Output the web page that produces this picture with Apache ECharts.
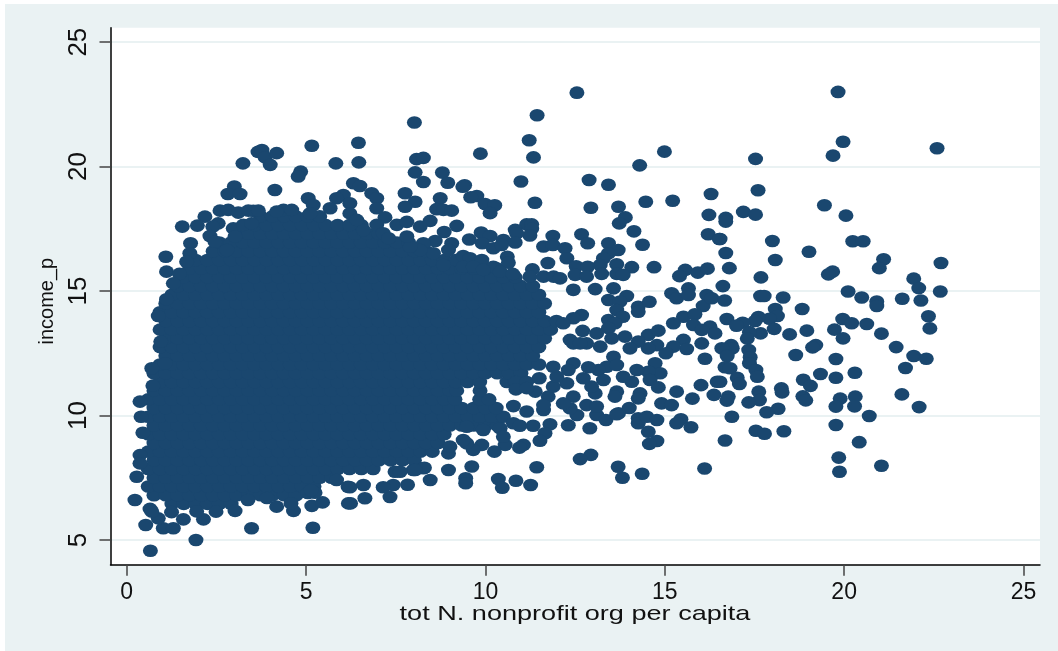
<!DOCTYPE html>
<html><head><meta charset="utf-8">
<style>html,body{margin:0;padding:0;background:#fff}#bg{position:absolute;left:5px;top:4px;width:1053px;height:647px;background:#EAF2F3}#c{position:absolute;left:0;top:0;width:1058px;height:651px}</style>
<script src="https://cdn.jsdelivr.net/npm/echarts@6/dist/echarts.min.js"></script>
</head><body><div id="bg"></div><div id="c"></div>
<script>
const tickValuesX=[0,5,10,15,20,25];
const tickValuesY=[5,10,15,20,25];
const xTitle="tot N. nonprofit org per capita";
const yTitle="income_p";
const farRightPoints=[[19.83,23],[19.97,21],[19.69,20.44],[22.59,20.74],[17.53,20.31],[17.6,19.05],[19.45,18.45],[20.05,18.03],[17.19,18.18],[17.53,18.07],[16.7,17.94],[16.7,17.79],[16.54,17.09],[18,17.01],[16.7,16.53],[19.02,16.58],[18.08,16.25],[20.24,17],[20.53,17],[21.1,16.28],[20.98,15.92],[22.7,16.13],[16.8,15.92],[17.68,15.55],[19.68,15.78],[19.56,15.67],[21.94,15.5],[22.08,15.12],[22.68,14.98],[16.62,15.2],[17.67,14.8],[17.77,14.8],[18.3,14.74],[20.11,14.98],[20.49,14.74],[20.91,14.58],[20.91,14.4],[21.62,14.69],[22.14,14.62],[16.67,14.62],[18.83,14.28],[18.08,14.28],[22.35,13.99],[22.39,13.5],[18.14,14],[17.92,13.89],[17.61,13.96],[17.52,13.8],[16.73,13.88],[17.17,13.73],[17,13.61],[19.96,13.88],[20.21,13.71],[20.63,13.68],[19.73,13.45],[21.04,13.29],[19.97,13.1],[18.05,13.48],[17.67,13.3],[17.36,13.35],[17.3,13.09],[18.48,13.26],[18.96,13.41],[21.45,12.75],[19.21,12.83],[19.12,12.74],[21.94,12.39],[22.29,12.28],[21.71,11.91],[19.77,12.27],[18.65,12.43],[16.85,12.83],[16.88,12.7],[16.59,12.7],[16.74,12.39],[17.34,12.63],[17.38,12.34],[17.36,12.1],[17.54,11.83],[17.58,11.56],[16.68,11.94],[16.82,11.9],[17.02,11.52],[17.08,11.27],[16.54,11.36],[20.3,11.72],[19.34,11.67],[19.77,11.52],[18.86,11.44],[19.06,11.19],[18.25,11.09],[18.27,10.93],[17.62,10.96],[17.64,10.62],[17.34,10.53],[16.77,10.76],[16.73,10.6],[18.85,10.77],[18.93,10.61],[19.89,10.68],[19.77,10.36],[20.31,10.76],[20.29,10.37],[21.61,10.85],[22.09,10.34],[20.7,9.98],[18.16,10.27],[17.84,10.13],[16.87,9.95],[19.77,9.62],[17.54,9.39],[17.78,9.27],[18.32,9.37],[16.68,9],[20.42,8.93],[19.85,8.31],[19.87,7.74],[21.04,7.98]];
const upperMiddlePoints=[[12.55,22.97],[8.02,21.77],[11.44,22.06],[11.22,21.06],[11.34,20.37],[9.86,20.52],[14.99,20.6],[14.3,20.05],[8.08,20.3],[8.27,20.35],[8.04,19.77],[8.8,19.76],[8.27,19.38],[8.95,19.35],[9.42,19.25],[9.37,19.19],[10.99,19.4],[12.89,19.46],[13.43,19.27],[7.76,18.93],[8.04,18.59],[7.76,18.39],[8.74,18.73],[9.76,18.82],[9.59,18.77],[9.99,18.5],[10.26,18.45],[10.13,18.13],[11.38,18.55],[12.94,18.35],[13.71,18.39],[14.47,18.59],[15.22,18.63],[16.29,18.9],[8.64,18.29],[8.83,18.26],[9.06,18.23],[16.23,18.06],[7.81,17.78],[8.46,17.82],[8.18,17.59],[9.2,17.62],[13.9,17.96],[13.73,17.72],[11.15,17.68],[11.29,17.68],[11.29,17.5],[11.24,17.23],[10.83,17.46],[10.87,17.32],[8.85,17.37],[9.88,17.35],[10.13,17.21],[9.55,17.07],[8.6,17.01],[8.27,16.92],[9.06,16.92],[8.97,16.65],[9.91,16.92],[10.22,16.72],[10.5,17.05],[10.83,16.95],[10.45,16.85],[11.88,17.21],[11.62,16.79],[11.88,16.85],[12.22,16.72],[12.27,16.32],[12.68,17.28],[12.85,16.92],[14.14,17.4],[14.38,16.86],[13.43,16.92],[13.7,16.65],[13.43,16.52],[13.29,16.32],[13.2,16.05],[16.21,17.28],[16.52,17.09],[10.61,16.38],[10.64,16.14],[11.74,16.13],[11.31,15.87],[11.24,15.58],[9.38,16.41],[9.57,16.32],[9.9,16.25],[10.22,15.98],[9.38,15.98],[9.66,15.98],[9.94,15.85],[10.41,15.78],[10.76,15.69],[8.83,16.05],[8.55,16.52],[8.18,16.65],[7.9,16.78],[7.81,17.19],[12.53,16],[12.85,15.98],[13.66,16.08],[14.08,15.96],[14.7,15.96],[15.57,15.85],[15.41,15.6],[15.92,15.74],[16.19,15.9],[11.62,15.58],[11.9,15.58],[12.08,15.51],[12.5,15.65],[12.82,15.58],[13.24,15.69],[13.66,15.69],[13.84,15.65]];
const lowerMiddlePoints=[[12.45,15.05],[13.06,15.08],[13.57,15.11],[13.43,14.64],[13.94,14.8],[13.75,14.58],[14.26,14.37],[14.26,14.17],[14.57,14.57],[13.66,14.24],[13.43,13.84],[13.83,13.97],[13.61,13.71],[13.43,13.51],[15.19,14.91],[15.33,14.71],[15.66,15.11],[15.66,14.84],[16.17,14.84],[16.07,14.4],[16.31,14.71],[15.52,13.97],[15.24,13.71],[15.84,14.07],[15.8,13.64],[16.26,13.57],[16.4,13.3],[16.03,13.44],[16.03,12.9],[15.52,13.04],[15.61,12.67],[14.54,13.24],[14.82,13.41],[14.78,12.83],[14.54,12.7],[14.26,12.97],[14.03,12.7],[15.24,12.77],[15.03,12.5],[13.89,13.17],[13.1,13.3],[13.2,12.77],[13.52,13.1],[12.68,14.04],[12.45,13.91],[12.17,13.71],[12.71,13.4],[12.36,13.04],[12.82,12.9],[16.12,12.28],[14.73,12.1],[14.87,11.7],[14.54,11.76],[14.59,11.43],[14.82,11.13],[14.22,11.83],[14.08,11.36],[13.84,11.56],[13.57,12.36],[13.38,11.96],[13.66,12.03],[13.15,11.83],[12.87,11.94],[13.29,11.43],[13.06,10.89],[12.96,11.16],[13.66,10.96],[13.61,10.76],[14.31,10.89],[14.26,10.69],[15.33,10.96],[16.01,11.22],[16.46,11.36],[16.37,10.83],[15.77,10.68],[14.91,10.49],[15.19,10.42],[14.01,10.3],[13.71,10.09],[14.26,9.89],[14.26,9.69],[14.5,9.95],[14.78,9.82],[15.45,9.85],[15.33,9.69],[15.73,9.53],[14.54,9.35],[14.78,8.98],[14.57,8.86],[16.11,7.87],[14.37,7.66],[13.7,7.94],[13.82,7.5],[12.94,8.42],[12.64,8.25],[12.31,9.61],[12.91,9.49],[13.1,10.02],[13.36,9.82],[13.66,10.05],[12.55,10.02],[12.36,10.29],[12.82,10.42],[13.1,10.36],[12.45,10.76],[12.17,10.49],[11.62,10.22],[11.15,10.16],[10.78,10.38],[11.8,9.65],[11.33,9.59],[11.66,9.29],[11.52,8.99],[11.06,8.82],[10.95,8.71],[10.55,8.82],[10.25,8.55],[9.9,8.82],[9.66,8.62],[9.48,8.88],[8.97,8.48],[9.01,8.75],[11.43,7.92],[10.85,7.38],[11.26,7.21],[10.36,7.45],[10.47,7.1],[9.45,7.48],[9.45,7.28],[9.62,7.95],[8.97,7.81],[8.46,7.41],[7.83,7.22],[8.3,7.9],[8.04,7.81],[7.62,7.74],[11.39,10.96],[11.75,10.76],[11.62,10.42],[12.73,11.5],[12.27,11.3],[11.89,11.16],[12.45,12.1],[12.31,11.83],[11.99,11.56],[12.45,12.9],[12.64,12.9],[11.89,11.96],[10.78,9.69],[10.96,9.59],[10.41,9.49],[9.94,9.42],[9.48,9.55],[10.5,9.15],[9.38,9.02],[10.85,11.35],[11.15,11.35],[11.5,11.5],[10.85,11.05],[11.15,11.1]];
const blobEdgePoints=[[0.66,4.57],[1.93,5],[0.53,5.6],[1.02,5.47],[1.3,5.47],[3.48,5.47],[5.19,5.49],[0.23,6.61],[0.28,7.54],[0.37,8.41],[0.37,8.08],[2.14,5.83],[1.58,5.83],[0.88,5.87],[0.65,6.25],[3.02,6.17],[2.49,6.14],[4.18,6.34],[4.65,6.17],[4.58,6.47],[5.16,6.37],[5.46,6.51],[6.18,6.47],[3.38,6.61],[3.91,6.69],[5.25,6.9],[5.85,7.41],[6.17,7.14],[1.25,6.12],[1.95,6.15],[0.7,6.14],[0.7,11.9],[0.37,10.56],[0.4,9.95],[0.45,9.31],[1.07,12.1],[0.73,11.2],[3.24,20.13],[3.66,20.59],[3.77,20.67],[3.86,20.37],[4.18,20.54],[4,20.07],[3,19.2],[2.82,18.9],[3.16,18.9],[2.18,17.99],[2.6,18.23],[2.83,18.26],[3.11,18.15],[3.53,18.22],[3.39,18.23],[3.67,18.23],[1.55,17.59],[1.97,17.63],[2.55,17.72],[2.4,17.59],[2.32,17.21],[2.46,16.98],[1.78,16.92],[1.09,16.38],[1.76,16.52],[1.67,16.18],[1.11,15.78],[1.47,15.69],[1.3,15.31],[1.11,14.67],[0.88,14],[0.95,12.97],[2.97,17.52],[3.02,17.19],[3.25,17.66],[3.48,17.72],[2.79,16.65],[5.16,20.84],[6.46,20.96],[5.83,20.13],[6.47,20.17],[4.85,19.8],[4.78,19.6],[4.13,19.06],[6.32,19.33],[6.5,19.22],[5.06,18.73],[5.2,18.46],[6.83,18.93],[6.97,18.73],[6.04,18.86],[5.85,18.73],[6.22,18.53],[6.22,18.12],[5.67,18.33],[4.37,18.26],[4.6,18.26],[4.18,18.19],[5.11,18.12],[6.97,18.33],[7.2,17.96],[6.97,17.66],[7.53,17.66],[7.15,17.32],[7.3,17.12],[6.6,17.45],[6.41,17.86],[6.24,6.47],[6.64,6.68],[7.34,6.73],[7.43,7.21],[7.15,7.12],[6.22,7.12],[6.6,7.21],[5.05,6.89],[5.14,7],[7.48,7.74],[7.99,7.81],[8.27,7.88]];
const coreRowY=[6.45,6.8,7.15,7.5,7.85,8.2,8.55,8.9,9.25,9.6,9.95,10.3,10.65,11,11.35,11.7,12.05,12.4,12.75,13.1,13.45,13.8,14.15,14.5,14.85,15.2,15.55,15.9,16.25,16.6,16.95,17.3,17.65,18];
const coreRowX=[
[1.26,1.59,1.92,2.25,2.58,2.91],
[0.76,1.09,1.42,1.75,2.08,2.41,2.74,3.07,3.4,3.73,4.06,4.39,4.72],
[0.6,0.93,1.26,1.59,1.92,2.25,2.58,2.91,3.24,3.57,3.9,4.23,4.56,4.89,5.22],
[0.76,1.09,1.42,1.75,2.08,2.41,2.74,3.07,3.4,3.73,4.06,4.39,4.72,5.05,5.38,5.71],
[0.6,0.93,1.26,1.59,1.92,2.25,2.58,2.91,3.24,3.57,3.9,4.23,4.56,4.89,5.22,5.55,5.88,6.21,6.54,6.87],
[0.76,1.09,1.42,1.75,2.08,2.41,2.74,3.07,3.4,3.73,4.06,4.39,4.72,5.05,5.38,5.71,6.04,6.37,6.7,7.03,7.36,7.69,8.02],
[0.6,0.93,1.26,1.59,1.92,2.25,2.58,2.91,3.24,3.57,3.9,4.23,4.56,4.89,5.22,5.55,5.88,6.21,6.54,6.87,7.2,7.53,7.86,8.19,8.52],
[0.76,1.09,1.42,1.75,2.08,2.41,2.74,3.07,3.4,3.73,4.06,4.39,4.72,5.05,5.38,5.71,6.04,6.37,6.7,7.03,7.36,7.69,8.02,8.35,8.68],
[0.6,0.93,1.26,1.59,1.92,2.25,2.58,2.91,3.24,3.57,3.9,4.23,4.56,4.89,5.22,5.55,5.88,6.21,6.54,6.87,7.2,7.53,7.86,8.19,8.52,8.85],
[0.76,1.09,1.42,1.75,2.08,2.41,2.74,3.07,3.4,3.73,4.06,4.39,4.72,5.05,5.38,5.71,6.04,6.37,6.7,7.03,7.36,7.69,8.02,8.35,8.68,9.01,9.34,9.67,10,10.33],
[0.6,0.93,1.26,1.59,1.92,2.25,2.58,2.91,3.24,3.57,3.9,4.23,4.56,4.89,5.22,5.55,5.88,6.21,6.54,6.87,7.2,7.53,7.86,8.19,8.52,8.85,9.18,9.51,9.84,10.17,10.5],
[0.76,1.09,1.42,1.75,2.08,2.41,2.74,3.07,3.4,3.73,4.06,4.39,4.72,5.05,5.38,5.71,6.04,6.37,6.7,7.03,7.36,7.69,8.02,8.35,8.68,9.01,9.34,9.67,10,10.3],
[0.6,0.93,1.26,1.59,1.92,2.25,2.58,2.91,3.24,3.57,3.9,4.23,4.56,4.89,5.22,5.55,5.88,6.21,6.54,6.87,7.2,7.53,7.86,8.19,8.52,8.85,9.15,9.84,10.1],
[0.76,1.09,1.42,1.75,2.08,2.41,2.74,3.07,3.4,3.73,4.06,4.39,4.72,5.05,5.38,5.71,6.04,6.37,6.7,7.03,7.36,7.69,8.02,8.35,8.68,9.01,9.2,9.85],
[0.93,1.26,1.59,1.92,2.25,2.58,2.91,3.24,3.57,3.9,4.23,4.56,4.89,5.22,5.55,5.88,6.21,6.54,6.87,7.2,7.53,7.86,8.19,8.52,8.85,9.18,9.5,9.84,10.6,10.83],
[0.76,1.09,1.42,1.75,2.08,2.41,2.74,3.07,3.4,3.73,4.06,4.39,4.72,5.05,5.38,5.71,6.04,6.37,6.7,7.03,7.36,7.69,8.02,8.35,8.68,9.01,9.34,9.67,10,10.33,10.66,10.99],
[0.93,1.26,1.59,1.92,2.25,2.58,2.91,3.24,3.57,3.9,4.23,4.56,4.89,5.22,5.55,5.88,6.21,6.54,6.87,7.2,7.53,7.86,8.19,8.52,8.85,9.18,9.51,9.84,10.17,10.5,10.83,11.16,11.49],
[1.09,1.42,1.75,2.08,2.41,2.74,3.07,3.4,3.73,4.06,4.39,4.72,5.05,5.38,5.71,6.04,6.37,6.7,7.03,7.36,7.69,8.02,8.35,8.68,9.01,9.34,9.67,10,10.33,10.66,10.99,11.32],
[0.93,1.26,1.59,1.92,2.25,2.58,2.91,3.24,3.57,3.9,4.23,4.56,4.89,5.22,5.55,5.88,6.21,6.54,6.87,7.2,7.53,7.86,8.19,8.52,8.85,9.18,9.51,9.84,10.17,10.5,10.83,11.16,11.49],
[1.09,1.42,1.75,2.08,2.41,2.74,3.07,3.4,3.73,4.06,4.39,4.72,5.05,5.38,5.71,6.04,6.37,6.7,7.03,7.36,7.69,8.02,8.35,8.68,9.01,9.34,9.67,10,10.33,10.66,10.99,11.32,11.65],
[0.93,1.26,1.59,1.92,2.25,2.58,2.91,3.24,3.57,3.9,4.23,4.56,4.89,5.22,5.55,5.88,6.21,6.54,6.87,7.2,7.53,7.86,8.19,8.52,8.85,9.18,9.51,9.84,10.17,10.5,10.83,11.16,11.49,11.82],
[1.09,1.42,1.75,2.08,2.41,2.74,3.07,3.4,3.73,4.06,4.39,4.72,5.05,5.38,5.71,6.04,6.37,6.7,7.03,7.36,7.69,8.02,8.35,8.68,9.01,9.34,9.67,10,10.33,10.66,10.99,11.32,11.65,11.98],
[0.93,1.26,1.59,1.92,2.25,2.58,2.91,3.24,3.57,3.9,4.23,4.56,4.89,5.22,5.55,5.88,6.21,6.54,6.87,7.2,7.53,7.86,8.19,8.52,8.85,9.18,9.51,9.84,10.17,10.5,10.83,11.16,11.49],
[1.09,1.42,1.75,2.08,2.41,2.74,3.07,3.4,3.73,4.06,4.39,4.72,5.05,5.38,5.71,6.04,6.37,6.7,7.03,7.36,7.69,8.02,8.35,8.68,9.01,9.34,9.67,10,10.33,10.66,10.99,11.32,11.65],
[1.26,1.59,1.92,2.25,2.58,2.91,3.24,3.57,3.9,4.23,4.56,4.89,5.22,5.55,5.88,6.21,6.54,6.87,7.2,7.53,7.86,8.19,8.52,8.85,9.18,9.51,9.84,10.17,10.5,10.83,11.16,11.49],
[1.42,1.75,2.08,2.41,2.74,3.07,3.4,3.73,4.06,4.39,4.72,5.05,5.38,5.71,6.04,6.37,6.7,7.03,7.36,7.69,8.02,8.35,8.68,9.01,9.34,9.67,10,10.33,10.66,10.99,11.32],
[1.59,1.92,2.25,2.58,2.91,3.24,3.57,3.9,4.23,4.56,4.89,5.22,5.55,5.88,6.21,6.54,6.87,7.2,7.53,7.86,8.19,8.52,8.85,9.18,9.51,9.84,10.17,10.5,10.83],
[1.75,2.08,2.41,2.74,3.07,3.4,3.73,4.06,4.39,4.72,5.05,5.38,5.71,6.04,6.37,6.7,7.03,7.36,7.69,8.02,8.35,8.68,9.01,9.34,9.67,10,10.33],
[1.92,2.25,2.58,2.91,3.24,3.57,3.9,4.23,4.56,4.89,5.22,5.55,5.88,6.21,6.54,6.87,7.2,7.53,7.86,8.19,8.52,8.85,9.18],
[2.41,2.74,3.07,3.4,3.73,4.06,4.39,4.72,5.05,5.38,5.71,6.04,6.37,6.7,7.03,7.36,7.69,8.02,8.35],
[2.58,2.91,3.24,3.57,3.9,4.23,4.56,4.89,5.22,5.55,5.88,6.21,6.54,6.87,7.2,7.53,7.86],
[3.07,3.4,3.73,4.06,4.39,4.72,5.05,5.38,5.71,6.04,6.37,6.7,7.03],
[3.57,3.9,4.23,4.56,4.89,5.22,5.55,5.88,6.21,6.54],
[3.73,4.06,4.39,4.72,5.05,5.38]
];
const corePoints=[];
coreRowY.forEach((y,i)=>coreRowX[i].forEach(x=>corePoints.push([x,y])));
const allPoints=[].concat(corePoints,blobEdgePoints,lowerMiddlePoints,upperMiddlePoints,farRightPoints);
const grid={left:110.5,right:18,top:27.7,bottom:86.3};
const chart=echarts.init(document.getElementById('c'),null,{renderer:'canvas'});
const ink='#111';
chart.setOption({
 animation:false,backgroundColor:'transparent',
 grid:Object.assign({show:true,backgroundColor:'#fff',borderWidth:0},grid),
 xAxis:{type:'value',min:-0.452,max:25.46,
  axisLine:{show:true,onZero:false,lineStyle:{color:'#000',width:1.5}},
  axisTick:{show:true,length:11,customValues:tickValuesX,lineStyle:{color:'#444',width:1.5}},
  axisLabel:{customValues:tickValuesX,margin:16,color:ink,fontFamily:'Liberation Sans',fontSize:23},
  splitLine:{show:false}},
 yAxis:{type:'value',min:4.008,max:25.58,
  name:yTitle,nameLocation:'middle',nameGap:51,
  nameTextStyle:{color:ink,fontFamily:'Liberation Sans',fontSize:20,padding:[0,10,0,0]},
  axisLine:{show:true,onZero:false,lineStyle:{color:'#000',width:1.5}},
  axisTick:{show:true,length:11,customValues:tickValuesY,lineStyle:{color:'#444',width:1.5}},
  axisLabel:{customValues:tickValuesY,rotate:90,margin:19,color:ink,fontFamily:'Liberation Sans',fontSize:26},
  splitLine:{show:true,lineStyle:{color:'#EAF2F3',width:2.2}}},
 graphic:[{type:'text',x:575,y:614.5,scaleX:1.29,silent:true,
  style:{text:xTitle,font:'21px "Liberation Sans"',fill:ink,textAlign:'center',textVerticalAlign:'middle'}}],
 series:[{type:'scatter',data:allPoints,clip:false,symbol:'path://M-1,0A1,1 0 1,1 1,0A1,1 0 1,1 -1,0Z',symbolSize:[15,12.6],symbolKeepAspect:false,
  itemStyle:{color:'#1A476F',opacity:1},silent:true,emphasis:{disabled:true}}]
});
</script></body></html>
